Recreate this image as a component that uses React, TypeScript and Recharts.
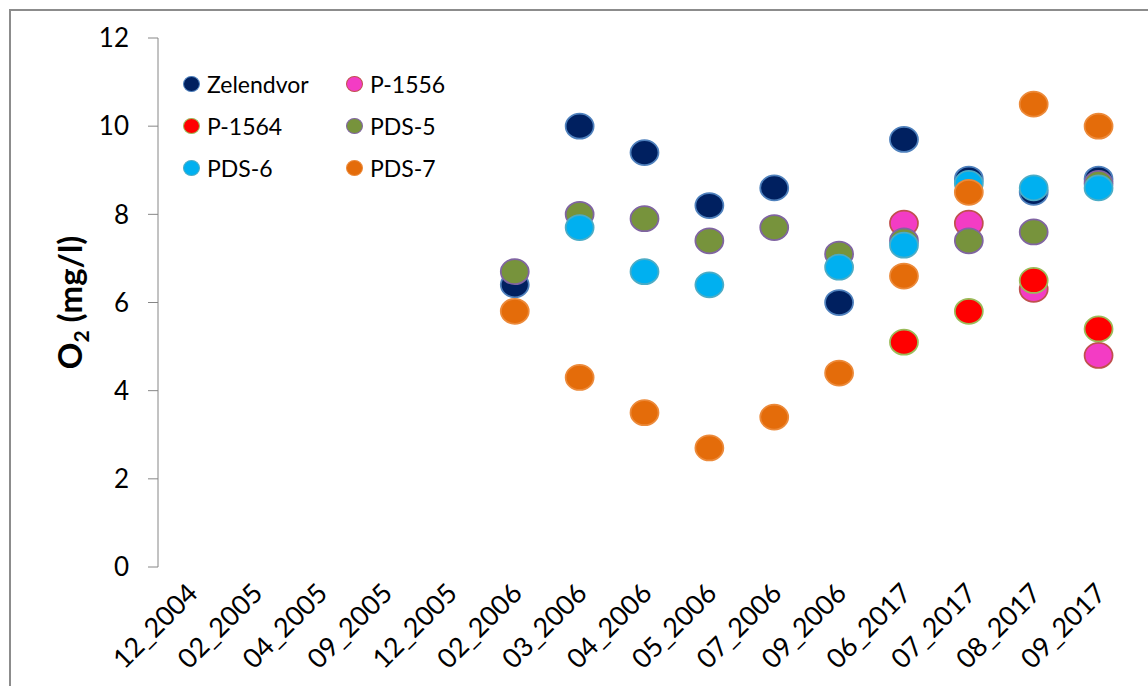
import React from 'react';
import { ComposedChart, Scatter, XAxis, YAxis } from 'recharts';

const categories = [
  '12_2004', '02_2005', '04_2005', '09_2005', '12_2005', '02_2006', '03_2006', '04_2006',
  '05_2006', '07_2006', '09_2006', '06_2017', '07_2017', '08_2017', '09_2017',
];

const zelendvor = [null, null, null, null, null, 6.4, 10.0, 9.4, 8.2, 8.6, 6.0, 9.7, 8.8, 8.5, 8.8];
const p1556 = [null, null, null, null, null, null, null, null, null, null, null, 7.8, 7.8, 6.3, 4.8];
const p1564 = [null, null, null, null, null, null, null, null, null, null, null, 5.1, 5.8, 6.5, 5.4];
const pds5 = [null, null, null, null, null, 6.7, 8.0, 7.9, 7.4, 7.7, 7.1, 7.4, 7.4, 7.6, 8.7];
const pds6 = [null, null, null, null, null, null, 7.7, 6.7, 6.4, null, 6.8, 7.3, 8.7, 8.6, 8.6];
const pds7 = [null, null, null, null, null, 5.8, 4.3, 3.5, 2.7, 3.4, 4.4, 6.6, 8.5, 10.5, 10.0];

const yTicks = [0, 2, 4, 6, 8, 10, 12];
const gridTicks = categories.map((_, i) => i).concat(categories.length);

const series = [
  { key: 'zel', name: 'Zelendvor', values: zelendvor, fill: '#002060', stroke: '#4F81BD' },
  { key: 'p1556', name: 'P-1556', values: p1556, fill: '#F33CC4', stroke: '#C0504D' },
  { key: 'p1564', name: 'P-1564', values: p1564, fill: '#FF0000', stroke: '#9BBB59' },
  { key: 'pds5', name: 'PDS-5', values: pds5, fill: '#77933C', stroke: '#8064A2' },
  { key: 'pds6', name: 'PDS-6', values: pds6, fill: '#00B0F0', stroke: '#4BACC6' },
  { key: 'pds7', name: 'PDS-7', values: pds7, fill: '#E46C0A', stroke: '#EC8A3A' },
];

const data = categories.map((cat, i) => {
  const row: Record<string, any> = { cat };
  series.forEach((s) => (row[s.key] = s.values[i]));
  return row;
});

const FONT = 'Lato, "Open Sans", sans-serif';

const makeMarker = (fill: string, stroke: string) => (props: any) => {
  const { cx, cy } = props;
  if (cx == null || cy == null || Number.isNaN(cx) || Number.isNaN(cy)) return <g />;
  return <ellipse cx={cx} cy={cy} rx={14} ry={12.5} fill={fill} stroke={stroke} strokeWidth={1.75} />;
};

function XTick({ x, y, payload }: any) {
  const tx = x + 9;
  const ty = y + 28;
  return (
    <text x={tx} y={ty} textAnchor="end" transform={`rotate(-45, ${tx}, ${ty})`} fontSize={27} fontFamily={FONT} fill="#000">
      {payload.value}
    </text>
  );
}

function YLabel({ viewBox }: any) {
  const x = (viewBox?.x ?? 0) + 82;
  const y = (viewBox?.y ?? 38) + (viewBox?.height ?? 529) / 2;
  return (
    <text x={x} y={y} textAnchor="middle" transform={`rotate(-90, ${x}, ${y})`} fontSize={33} fontWeight={700} fontFamily={FONT} fill="#000">
      <tspan>O</tspan>
      <tspan dy={7} fontSize={21}>2</tspan>
      <tspan dy={-7}> (mg/l)</tspan>
    </text>
  );
}

function LegendBox() {
  return (
    <>
      {series.map((s, i) => (
        <div
          key={s.key}
          style={{
            position: 'absolute',
            left: 183 + (i % 2) * 163,
            top: 72 + Math.floor(i / 2) * 42,
            height: 24,
            display: 'flex',
            alignItems: 'center',
            fontFamily: FONT,
            fontSize: 23,
            color: '#000',
            whiteSpace: 'nowrap',
          }}
        >
          <span
            style={{
              display: 'inline-block',
              width: 15,
              height: 14,
              borderRadius: '50%',
              background: s.fill,
              border: `1px solid ${s.stroke}`,
              marginRight: 7,
            }}
          />
          {s.name}
        </div>
      ))}
    </>
  );
}

export default function App() {
  return (
    <div style={{ position: 'absolute', left: 0, top: 0, width: 1148, height: 686, overflow: 'hidden', background: '#fff' }}>
      <div
        style={{
          position: 'absolute',
          left: 9,
          top: 9,
          width: 1300,
          height: 900,
          borderLeft: '2px solid #8c8c8c',
          borderTop: '2px solid #8c8c8c',
        }}
      />
      <div style={{ position: 'absolute', left: 0, top: 0 }}>
        <ComposedChart width={1148} height={686} data={data} margin={{ top: 38, right: 17, bottom: 0, left: 0 }}>
          <XAxis
            xAxisId="grid"
            type="number"
            domain={[0, categories.length]}
            allowDataOverflow
            ticks={gridTicks}
            tickFormatter={() => ''}
            height={0}
            tickSize={9}
            stroke="#868686"
            tickLine={{ stroke: '#868686' }}
          />
          <XAxis
            xAxisId="main"
            dataKey="cat"
            type="category"
            scale="band"
            interval={0}
            height={119}
            axisLine={false}
            tickLine={false}
            tickSize={0}
            tickMargin={0}
            tick={<XTick />}
          />
          <YAxis
            type="number"
            domain={[0, 12]}
            ticks={yTicks}
            width={158}
            tickSize={10}
            tickMargin={19}
            stroke="#868686"
            tick={{ fill: '#000', fontSize: 26, fontFamily: FONT }}
            label={<YLabel />}
          />
          {series.map((s) => (
            <Scatter
              key={s.key}
              xAxisId="main"
              dataKey={s.key}
              name={s.name}
              isAnimationActive={false}
              shape={makeMarker(s.fill, s.stroke)}
            />
          ))}
        </ComposedChart>
      </div>
      <LegendBox />
    </div>
  );
}
